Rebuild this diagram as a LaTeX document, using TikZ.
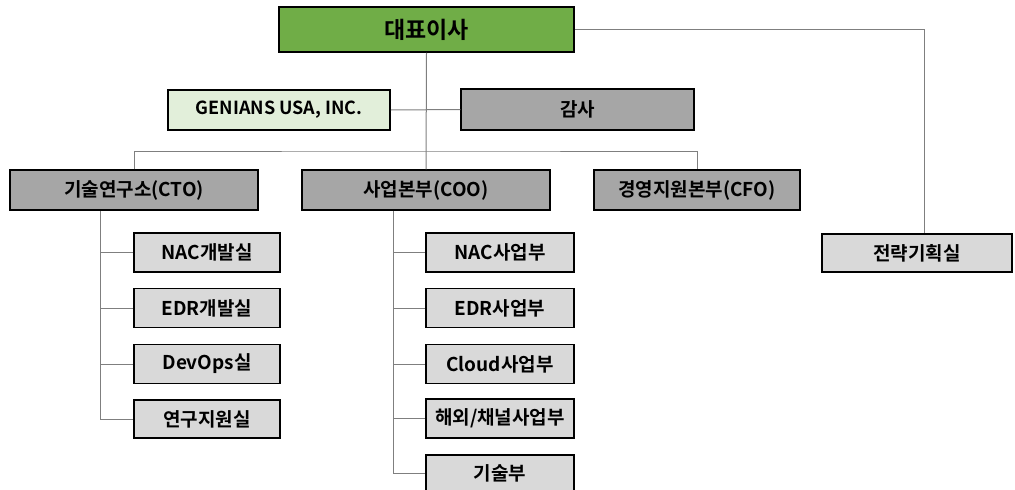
\documentclass[tikz,border=0pt]{standalone}
\usepackage{fontspec}
\setmainfont{Noto Sans CJK KR Bold}
\definecolor{ceogreen}{HTML}{70AD47}
\definecolor{lightgreen}{HTML}{E2EFDA}
\definecolor{midgray}{HTML}{A6A6A6}
\definecolor{lightgray}{HTML}{D9D9D9}
\definecolor{linegray}{HTML}{7F7F7F}
\begin{document}
\begin{tikzpicture}[x=1pt,y=-1pt,
  box/.style={draw=black, line width=1.5pt, inner sep=0pt, font=\fontsize{19}{21}\selectfont},
  ceobox/.style={box, fill=ceogreen, minimum width=295pt, minimum height=45pt, font=\fontsize{23}{26}\selectfont},
  subbox/.style={box, fill=lightgreen, font=\fontsize{18}{20}\selectfont},
  mainbox/.style={box, fill=midgray},
  leafbox/.style={box, fill=lightgray},
  conn/.style={draw=linegray, line width=1pt}]
\useasboundingbox (0,0) rectangle (1015,490);
% nodes
\node[ceobox] (ceo) at (426.5,29.5) {대표이사};
\node[subbox, minimum width=222pt, minimum height=40pt] (usa) at (279,110) {GENIANS USA, INC.};
\node[mainbox, minimum width=233pt, minimum height=41pt] (audit) at (577.5,109.5) {감사};
\node[mainbox, minimum width=248pt, minimum height=40pt] (cto) at (134,190) {기술연구소(CTO)};
\node[mainbox, minimum width=248pt, minimum height=40pt] (coo) at (426,190) {사업본부(COO)};
\node[mainbox, minimum width=206pt, minimum height=40pt] (cfo) at (697,190) {경영지원본부(CFO)};
\node[leafbox, minimum width=190pt, minimum height=38pt] (strat) at (917,253) {전략기획실};
% CTO children
\node[leafbox, minimum width=146pt, minimum height=39pt] (t1) at (207,252.5) {NAC개발실};
\node[leafbox, minimum width=146pt, minimum height=39pt] (t2) at (207,308) {EDR개발실};
\node[leafbox, minimum width=146pt, minimum height=39pt] (t3) at (207,364) {DevOps실};
\node[leafbox, minimum width=146pt, minimum height=38pt] (t4) at (207,419) {연구지원실};
% COO children
\node[leafbox, minimum width=148pt, minimum height=39pt] (o1) at (500,252.5) {NAC사업부};
\node[leafbox, minimum width=148pt, minimum height=39pt] (o2) at (500,308) {EDR사업부};
\node[leafbox, minimum width=148pt, minimum height=39pt] (o3) at (500,364) {Cloud사업부};
\node[leafbox, minimum width=148pt, minimum height=39pt] (o4) at (500,418.5) {해외/채널사업부};
\node[leafbox, minimum width=148pt, minimum height=36pt] (o5) at (500,473) {기술부};
% connectors
\coordinate (bus) at (0,151);
\coordinate (ctov) at ([xshift=-34pt]cto.south);
\coordinate (coov) at ([xshift=-33pt]coo.south);
\coordinate (stratv) at ([xshift=7pt]strat.north);
\draw[conn] (ceo.east) -| (stratv);
\draw[conn] (ceo.south) -- (coo.north);
\draw[conn] (usa.east) -- (audit.west);
\draw[conn] (cto.north) |- (bus -| coo.north) -| (cfo.north);
\draw[conn] (ctov) |- (t4.west);
\draw[conn] (ctov |- t1.west) -- (t1.west);
\draw[conn] (ctov |- t2.west) -- (t2.west);
\draw[conn] (ctov |- t3.west) -- (t3.west);
\draw[conn] (coov) |- (o5.west);
\draw[conn] (coov |- o1.west) -- (o1.west);
\draw[conn] (coov |- o2.west) -- (o2.west);
\draw[conn] (coov |- o3.west) -- (o3.west);
\draw[conn] (coov |- o4.west) -- (o4.west);
\end{tikzpicture}
\end{document}
